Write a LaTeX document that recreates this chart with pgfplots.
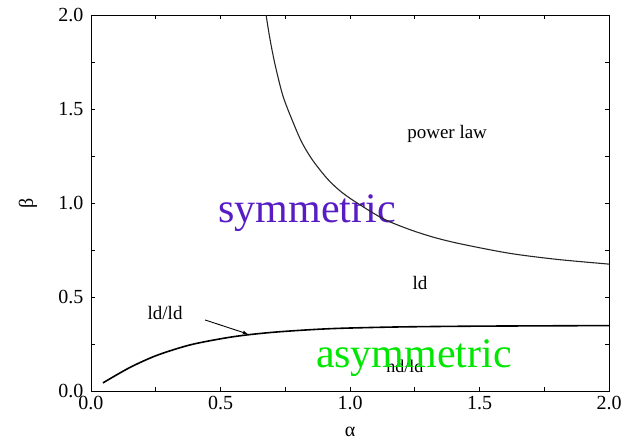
\documentclass[border=0pt]{standalone}
\usepackage{fontspec}
\setmainfont{Liberation Serif}
\usepackage{pgfplots}
\pgfplotsset{compat=1.18}
\usetikzlibrary{arrows.meta}

\definecolor{symcol}{RGB}{88,28,196}
\definecolor{asymcol}{RGB}{0,230,0}

\begin{document}
\begin{tikzpicture}
\begin{axis}[
  scale only axis,
  width=518pt, height=376pt,
  xmin=0, xmax=2, ymin=0, ymax=2,
  xtick={0,0.5,...,2}, ytick={0,0.5,...,2},
  minor xtick={0.25,0.75,1.25,1.75},
  minor ytick={0.25,0.75,1.25,1.75},
  tick align=inside,
  major tick length=4pt, minor tick length=4pt,
  every tick/.style={black, line width=0.6pt},
  axis line style={black, line width=0.8pt},
  tick label style={font=\fontsize{20}{22}\selectfont},
  /pgf/number format/assume math mode=true,
  /pgf/number format/fixed, /pgf/number format/fixed zerofill,
  /pgf/number format/precision=1,
  xticklabel style={yshift=-2pt},
  yticklabel style={xshift=-4pt},
  xlabel={α}, ylabel={β},
  label style={font=\fontsize{20}{22}\selectfont},
  xlabel style={at={(axis description cs:0.5,-0.109)}, anchor=center},
  ylabel style={at={(axis description cs:-0.1216,0.5)}, anchor=center, rotate=0},
  clip=false,
]
% region labels
\node[font=\fontsize{19}{21}\selectfont] at (axis cs:1.375,1.367) {power law};
\node[font=\fontsize{19}{21}\selectfont] at (axis cs:1.27,0.574) {ld};
\node[font=\fontsize{19}{21}\selectfont] at (axis cs:0.286,0.415) {ld/ld};
\node[font=\fontsize{18}{20}\selectfont] at (axis cs:1.212,0.133) {hd/ld};
\node[font=\fontsize{42}{46}\selectfont, text=symcol] at (axis cs:0.834,0.947) {symmetric};
\node[font=\fontsize{42}{46}\selectfont, text=asymcol] at (axis cs:1.247,0.176) {asymmetric};

% boundary between power law and ld phases
\addplot[black!85, line width=1.1pt, smooth, tension=0.5] coordinates {
  (0.676,2.0) (0.69,1.88) (0.71,1.74) (0.741,1.57) (0.78,1.43)
  (0.815,1.32) (0.857,1.225) (0.915,1.125) (0.97,1.055) (1.039,0.99)
  (1.13,0.915) (1.232,0.858) (1.33,0.815) (1.436,0.780) (1.618,0.732)
  (1.8,0.70) (2.0,0.675)
};
% boundary between symmetric and asymmetric phases
\addplot[black, line width=1.6pt, smooth, tension=0.5] coordinates {
  (0.046,0.043) (0.15,0.125) (0.255,0.19) (0.382,0.245) (0.51,0.28)
  (0.6,0.298) (0.7,0.312) (0.8,0.322) (0.9,0.33) (1.0,0.335)
  (1.2,0.341) (1.5,0.345) (2.0,0.348)
};
\draw[-{Latex[length=5pt,width=4pt]}, line width=0.9pt] (axis cs:0.44,0.378) -- (axis cs:0.606,0.303);
\end{axis}
\pgfresetboundingbox
\path[use as bounding box] (-91pt,-51pt) rectangle (543pt,391pt);
\end{tikzpicture}
\end{document}
